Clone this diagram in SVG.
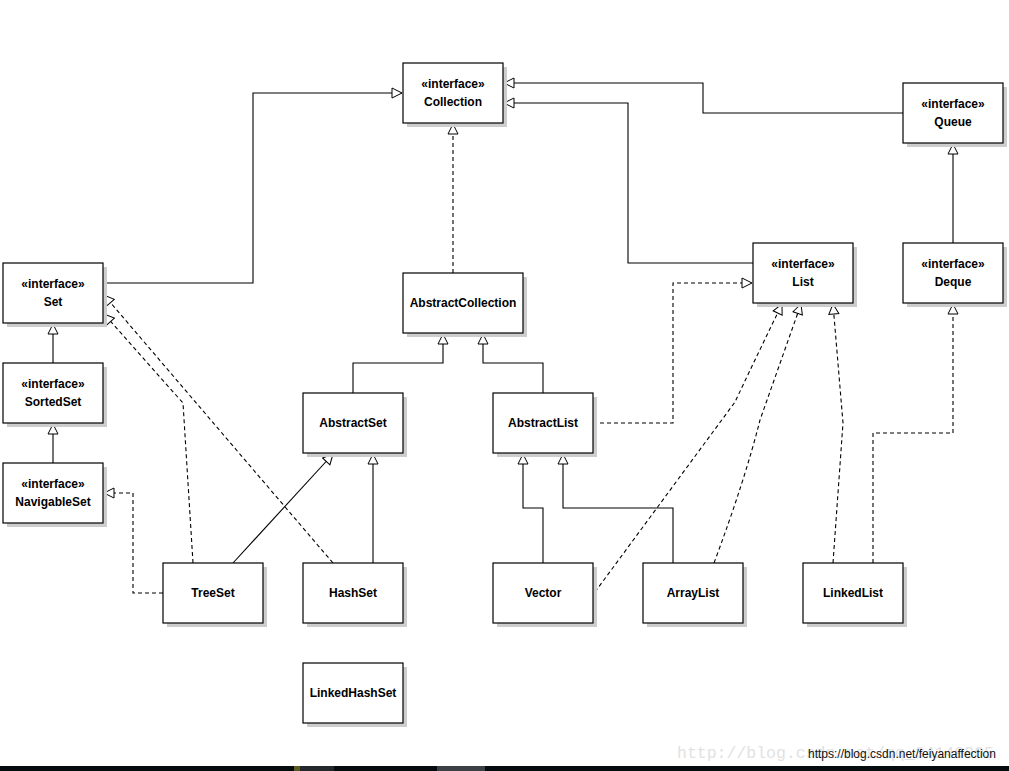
<svg xmlns="http://www.w3.org/2000/svg" width="1009" height="771" viewBox="0 0 1009 771">
<defs>
<style>
.sh{fill:#cdcdcd}
.bx{fill:#fff;stroke:#000;stroke-width:1.2}
.t{font-family:"Liberation Sans",Arial,sans-serif;font-size:12px;font-weight:bold;fill:#000;text-anchor:middle}
.c{fill:none;stroke:#000;stroke-width:1.1}
.d{fill:none;stroke:#000;stroke-width:1.1;stroke-dasharray:4 3}
</style>
<marker id="tri" markerWidth="12" markerHeight="12" viewBox="0 0 12 12" refX="11" refY="6" orient="auto" markerUnits="userSpaceOnUse">
<path d="M1,1 L11,6 L1,11 Z" fill="#fff" stroke="#000" stroke-width="1"/>
</marker>
</defs>
<rect width="1009" height="771" fill="#fff"/>
<g id="connectors">
<path class="c" d="M103,283 H253 V93 H402" marker-end="url(#tri)"/>
<path class="d" d="M453,273 V124" marker-end="url(#tri)"/>
<path class="c" d="M753,263 H628 V103 H504" marker-end="url(#tri)"/>
<path class="c" d="M903,113 H703 V83 H504" marker-end="url(#tri)"/>
<path class="c" d="M953,243 V144" marker-end="url(#tri)"/>
<path class="c" d="M53,363 V324" marker-end="url(#tri)"/>
<path class="c" d="M53,463 V424" marker-end="url(#tri)"/>
<path class="d" d="M163,593 H133 V493 H104" marker-end="url(#tri)"/>
<path class="d" d="M193,563 L183,403 L104,314" marker-end="url(#tri)"/>
<path class="d" d="M333,563 L104,295" marker-end="url(#tri)"/>
<path class="c" d="M233,563 L333,454" marker-end="url(#tri)"/>
<path class="c" d="M373,563 V454" marker-end="url(#tri)"/>
<path class="c" d="M353,393 V363 H443 V334" marker-end="url(#tri)"/>
<path class="c" d="M543,393 V363 H483 V334" marker-end="url(#tri)"/>
<path class="d" d="M593,423 H673 V283 H752" marker-end="url(#tri)"/>
<path class="c" d="M543,563 V508 H523 V454" marker-end="url(#tri)"/>
<path class="c" d="M673,563 V508 H563 V454" marker-end="url(#tri)"/>
<path class="d" d="M595,592 L735,402 Q750,370 782,304" marker-end="url(#tri)"/>
<path class="d" d="M714,563 Q745,480 760,420 L801,304" marker-end="url(#tri)"/>
<path class="d" d="M833,563 L843,423 L833,304" marker-end="url(#tri)"/>
<path class="d" d="M873,563 V433 H953 V304" marker-end="url(#tri)"/>
</g>
<g id="Collection"><rect class="sh" x="407" y="67" width="100" height="60"/><rect class="bx" x="403" y="63" width="100" height="60"/><text class="t" x="453" y="88">«interface»</text><text class="t" x="453" y="106">Collection</text></g>
<g id="Queue"><rect class="sh" x="907" y="87" width="100" height="60"/><rect class="bx" x="903" y="83" width="100" height="60"/><text class="t" x="953" y="108">«interface»</text><text class="t" x="953" y="126">Queue</text></g>
<g id="Set"><rect class="sh" x="7" y="267" width="100" height="60"/><rect class="bx" x="3" y="263" width="100" height="60"/><text class="t" x="53" y="288">«interface»</text><text class="t" x="53" y="306">Set</text></g>
<g id="AbstractCollection"><rect class="sh" x="407" y="277" width="120" height="60"/><rect class="bx" x="403" y="273" width="120" height="60"/><text class="t" x="463" y="307">AbstractCollection</text></g>
<g id="List"><rect class="sh" x="757" y="247" width="100" height="60"/><rect class="bx" x="753" y="243" width="100" height="60"/><text class="t" x="803" y="268">«interface»</text><text class="t" x="803" y="286">List</text></g>
<g id="Deque"><rect class="sh" x="907" y="247" width="100" height="60"/><rect class="bx" x="903" y="243" width="100" height="60"/><text class="t" x="953" y="268">«interface»</text><text class="t" x="953" y="286">Deque</text></g>
<g id="SortedSet"><rect class="sh" x="7" y="367" width="100" height="60"/><rect class="bx" x="3" y="363" width="100" height="60"/><text class="t" x="53" y="388">«interface»</text><text class="t" x="53" y="406">SortedSet</text></g>
<g id="AbstractSet"><rect class="sh" x="307" y="397" width="100" height="60"/><rect class="bx" x="303" y="393" width="100" height="60"/><text class="t" x="353" y="427">AbstractSet</text></g>
<g id="AbstractList"><rect class="sh" x="497" y="397" width="100" height="60"/><rect class="bx" x="493" y="393" width="100" height="60"/><text class="t" x="543" y="427">AbstractList</text></g>
<g id="NavigableSet"><rect class="sh" x="7" y="467" width="100" height="60"/><rect class="bx" x="3" y="463" width="100" height="60"/><text class="t" x="53" y="488">«interface»</text><text class="t" x="53" y="506">NavigableSet</text></g>
<g id="TreeSet"><rect class="sh" x="167" y="567" width="100" height="60"/><rect class="bx" x="163" y="563" width="100" height="60"/><text class="t" x="213" y="597">TreeSet</text></g>
<g id="HashSet"><rect class="sh" x="307" y="567" width="100" height="60"/><rect class="bx" x="303" y="563" width="100" height="60"/><text class="t" x="353" y="597">HashSet</text></g>
<g id="Vector"><rect class="sh" x="497" y="567" width="100" height="60"/><rect class="bx" x="493" y="563" width="100" height="60"/><text class="t" x="543" y="597">Vector</text></g>
<g id="ArrayList"><rect class="sh" x="647" y="567" width="100" height="60"/><rect class="bx" x="643" y="563" width="100" height="60"/><text class="t" x="693" y="597">ArrayList</text></g>
<g id="LinkedList"><rect class="sh" x="807" y="567" width="100" height="60"/><rect class="bx" x="803" y="563" width="100" height="60"/><text class="t" x="853" y="597">LinkedList</text></g>
<g id="LinkedHashSet"><rect class="sh" x="307" y="667" width="100" height="60"/><rect class="bx" x="303" y="663" width="100" height="60"/><text class="t" x="353" y="697">LinkedHashSet</text></g>
<text x="677" y="758" font-family="Liberation Mono,monospace" font-size="16.5" fill="#e2e2e2">http://blog.csdn.net/qq_34149805</text>
<text x="808" y="758" font-family="Liberation Sans,Arial,sans-serif" font-size="12" fill="#111">https://blog.csdn.net/feiyanaffection</text>
<rect x="0" y="766" width="1009" height="5" fill="#050c10"/>
<rect x="294" y="766" width="6" height="5" fill="#5c5a20"/>
<rect x="300" y="766" width="34" height="5" fill="#22282c"/>
<rect x="437" y="766" width="48" height="5" fill="#3a4045"/>
</svg>
